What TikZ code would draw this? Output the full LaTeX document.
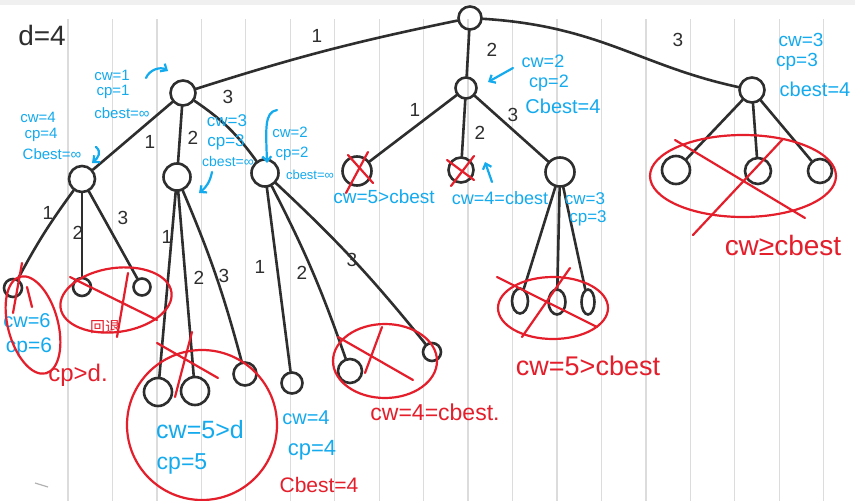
\documentclass[tikz,border=0pt]{standalone}
\usepackage{fontspec}
\setmainfont{Liberation Sans}
\newfontfamily\cjk{Noto Sans CJK SC}
\usetikzlibrary{shapes.geometric,arrows.meta}
\definecolor{ink}{HTML}{2E2E2E}
\definecolor{sky}{HTML}{14AAEE}
\definecolor{crimson}{HTML}{E41E2B}
\definecolor{ruleline}{HTML}{DCDCDC}
\definecolor{topbar}{HTML}{F0F0F0}
\begin{document}
\begin{tikzpicture}[x=1pt,y=-1pt,
  nd/.style={circle,draw=ink,line width=2.6pt,inner sep=0pt,minimum size=#1},
  nd/.default=25pt,
  ov/.style={ellipse,draw=ink,line width=2.6pt,inner sep=0pt,minimum width=#1,minimum height=25pt},
  ov/.default=16pt,
  link/.style={draw=ink,line width=2.6pt,line cap=round},
  lbl/.style={text=ink,inner sep=0pt,font=\fontsize{19}{19}\selectfont},
  bluetxt/.style={text=sky,inner sep=0pt,font=\fontsize{#1}{#1}\selectfont},
  redtxt/.style={text=crimson,inner sep=0pt,font=\fontsize{#1}{#1}\selectfont},
  ring/.style={draw=crimson,line width=2.2pt},
  strike/.style={draw=crimson,line width=2.2pt,line cap=round},
  barrow/.style={draw=sky,line width=2.2pt,line cap=round,-{Straight Barb[length=5pt,width=9pt]}},
]
% background
\useasboundingbox (0,0) rectangle (855,501);
\fill[white] (0,0) rectangle (855,501);
\fill[topbar] (0,0) rectangle (855,5);
\foreach \i in {0,...,17} \draw[ruleline,line width=1.3pt] ({68+44.45*\i},19) -- ({68+44.45*\i},501);
\draw[black!30,line width=1.2pt] (35,483) -- (48,487);

% nodes
\node[nd=23pt] (r) at (470,18) {};
\node[nd=25pt] (a) at (183,93) {};
\node[nd=21pt] (b) at (466,88) {};
\node[nd=25pt] (c) at (752,90) {};
\node[nd=26pt] (a1) at (82,179) {};
\node[nd=27pt] (a2) at (177,177) {};
\node[nd=27pt] (a3) at (265,173) {};
\node[nd=29pt] (b1) at (357,171) {};
\node[nd=25pt] (b2) at (461,170) {};
\node[nd=29pt] (b3) at (560,172) {};
\node[nd=28pt] (c1) at (676,170) {};
\node[nd=26pt] (c2) at (758,171) {};
\node[nd=24pt] (c3) at (820,171) {};
\node[nd=18pt] (a1a) at (13,288) {};
\node[nd=18pt] (a1b) at (82,287) {};
\node[nd=17pt] (a1c) at (142,287) {};
\node[nd=28pt] (a2a) at (158,392) {};
\node[nd=28pt] (a2b) at (195,391) {};
\node[nd=23pt] (a2c) at (245,374) {};
\node[nd=21pt] (a3a) at (292,383) {};
\node[nd=24pt] (a3b) at (350,371) {};
\node[nd=18pt] (a3c) at (432,352) {};
\node[ov] (b3a) at (520,301) {};
\node[ov=17pt] (b3b) at (557,302) {};
\node[ov=13pt] (b3c) at (588,302) {};

% edges
\draw[link] (r) to[bend right=3] (a);
\draw[link] (r) -- (b);
\draw[link] (r) .. controls (600,26) and (640,66) .. (c);
\draw[link] (a) -- (a1);
\draw[link] (a) -- (a2);
\draw[link] (a) to[bend left=10] (a3);
\draw[link] (b) -- (b1);
\draw[link] (b) -- (b2);
\draw[link] (b) -- (b3);
\draw[link] (c) -- (c1);
\draw[link] (c) -- (c2);
\draw[link] (c) -- (c3);
\draw[link] (a1) to[bend right=4] (a1a);
\draw[link] (a1) -- (a1b);
\draw[link] (a1) -- (a1c);
\draw[link] (a2) -- (a2a);
\draw[link] (a2) -- (a2b);
\draw[link] (a2) to[bend left=4] (a2c);
\draw[link] (a3) -- (a3a);
\draw[link] (a3) to[bend left=4] (a3b);
\draw[link] (a3) to[bend left=4] (a3c);
\draw[link] (b3) -- (b3a);
\draw[link] (b3) -- (b3b);
\draw[link] (b3) -- (b3c);

% edge labels
\node[lbl] (l1) at (317,36) {1};
\node[lbl] (l2) at (492,50) {2};
\node[lbl] (l3) at (678,40) {3};
\node[lbl] (la1) at (150,142) {1};
\node[lbl] (la2) at (193,138) {2};
\node[lbl] (la3) at (228,97) {3};
\node[lbl] (lb1) at (415,110) {1};
\node[lbl] (lb2) at (480,133) {2};
\node[lbl] (lb3) at (513,115) {3};
\node[lbl] (lc1) at (48,213) {1};
\node[lbl] (lc2) at (78,233) {2};
\node[lbl] (lc3) at (123,218) {3};
\node[lbl] (ld1) at (167,237) {1};
\node[lbl] (ld2) at (199,278) {2};
\node[lbl] (ld3) at (224,276) {3};
\node[lbl] (le1) at (260,267) {1};
\node[lbl] (le2) at (302,273) {2};
\node[lbl] (le3) at (352,260) {3};

% title
\node[text=ink,inner sep=0pt,font=\fontsize{28}{28}\selectfont] (d) at (42,35) {d=4};

% blue annotations
\node[bluetxt=15] (t1) at (112,75) {cw=1};
\node[bluetxt=15] (t2) at (113,92) {cp=1};
\node[bluetxt=15] (t3) at (122,113) {cbest=∞};
\node[bluetxt=15] (t4) at (38,117) {cw=4};
\node[bluetxt=15] (t5) at (41,135) {cp=4};
\node[bluetxt=15] (t6) at (52,154) {Cbest=∞};
\node[bluetxt=17] (t7) at (227,121) {cw=3};
\node[bluetxt=17] (t8) at (226,142) {cp=3};
\node[bluetxt=14] (t9) at (228,161) {cbest=∞};
\node[bluetxt=15] (t10) at (290,132) {cw=2};
\node[bluetxt=15] (t11) at (292,154) {cp=2};
\node[bluetxt=13] (t12) at (310,175) {cbest=∞};
\node[bluetxt=18] (t13) at (543,61) {cw=2};
\node[bluetxt=18] (t14) at (549,83) {cp=2};
\node[bluetxt=20] (t15) at (563,106) {Cbest=4};
\node[bluetxt=19] (t16) at (801,40) {cw=3};
\node[bluetxt=19] (t17) at (797,62) {cp=3};
\node[bluetxt=20] (t18) at (815,89) {cbest=4};
\node[bluetxt=19] (t19) at (384,197) {cw=5>cbest};
\node[bluetxt=18] (t20) at (500,198) {cw=4=cbest};
\node[bluetxt=17] (t21) at (585,199) {cw=3};
\node[bluetxt=17] (t22) at (588,218) {cp=3};
\node[bluetxt=20] (t23) at (27,321) {cw=6};
\node[bluetxt=21] (t24) at (29,347) {cp=6};
\node[bluetxt=25] (t25) at (200,430) {cw=5>d};
\node[bluetxt=23] (t26) at (182,464) {cp=5};
\node[bluetxt=20] (t27) at (306,418) {cw=4};
\node[bluetxt=22] (t28) at (312,450) {cp=4};

% blue arrows
\draw[barrow] (146,78) to[bend left=50] (168,71);
\draw[barrow] (96,147) .. controls (102,152) and (98,158) .. (92,163);
\draw[barrow] (212,172) to[bend left=20] (199,193);
\draw[barrow] (277,110) .. controls (264,112) and (266,130) .. (267,163);
\draw[barrow] (513,68) -- (488,82);
\draw[barrow] (492,182) -- (485,162);

% red annotations
\node[redtxt=21] (u1) at (319,485) {Cbest=4};
\node[redtxt=28] (u2) at (783,245) {cw≥cbest};
\node[redtxt=27] (u3) at (588,366) {cw=5>cbest};
\node[redtxt=23] (u4) at (435,412) {cw=4=cbest.};
\node[redtxt=24] (u5) at (78,375) {cp>d.};
\node[redtxt=15,font=\cjk\fontsize{15}{15}\selectfont] (u6) at (105,327) {回退};

% red rings
\draw[ring,rotate around={15:(33,325)}] (33,325) ellipse [x radius=25pt, y radius=50pt];
\draw[ring,rotate around={8:(116,300)}] (116,300) ellipse [x radius=56pt, y radius=32pt];
\draw[ring] (202,425) circle [radius=75pt];
\draw[ring] (385,361) ellipse [x radius=52pt, y radius=37pt];
\draw[ring] (553,308) ellipse [x radius=55pt, y radius=31pt];
\draw[ring] (743,176) ellipse [x radius=93pt, y radius=41pt];

% red strikes
\draw[strike] (22,263) -- (13,313);
\draw[strike] (27,287) -- (32,307);
\draw[strike] (70,277) -- (157,320);
\draw[strike] (128,273) -- (117,337);
\draw[strike] (157,343) -- (218,378);
\draw[strike] (192,332) -- (175,397);
\draw[strike] (338,337) -- (413,380);
\draw[strike] (382,327) -- (365,373);
\draw[strike] (497,277) -- (597,327);
\draw[strike] (570,268) -- (522,337);
\draw[strike] (675,140) -- (805,218);
\draw[strike] (782,140) -- (693,235);
\draw[strike] (348,155) -- (373,183);
\draw[strike] (368,152) -- (346,193);
\draw[strike] (447,160) -- (474,180);
\draw[strike] (474,156) -- (451,186);
\end{tikzpicture}
\end{document}
